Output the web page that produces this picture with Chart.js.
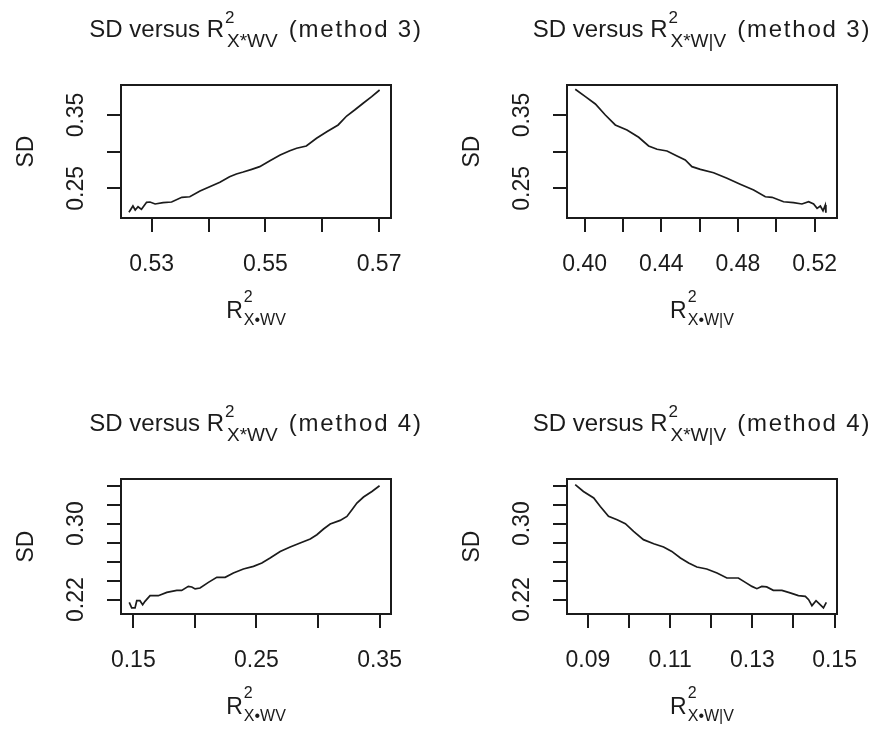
<!DOCTYPE html>
<html><head><meta charset="utf-8">
<script src="https://cdn.jsdelivr.net/npm/chart.js@4/dist/chart.umd.min.js"></script>
<style>
html,body{margin:0;padding:0;background:#fff;}
#wrap{position:relative;width:882px;height:733px;overflow:hidden;background:#fff;}
canvas{position:absolute;}
</style></head><body>
<div id="wrap">
<canvas id="c1" width="441" height="366" style="left:0px;top:0px"></canvas>
<canvas id="c2" width="441" height="366" style="left:441px;top:0px"></canvas>
<canvas id="c3" width="441" height="367" style="left:0px;top:366px"></canvas>
<canvas id="c4" width="441" height="367" style="left:441px;top:366px"></canvas>
</div>
<script>
// ---- data: method 3, SD vs R2 X*WV ----
const r2_xwv_m3 = [0.5260,0.5267,0.5271,0.5276,0.5282,0.5291,0.5297,0.5306,0.5320,0.5335,0.5353,0.5367,0.5385,0.5402,0.5420,0.5437,0.5449,0.5461,0.5476,0.5490,0.5508,0.5526,0.5543,0.5555,0.5572,0.5590,0.5608,0.5628,0.5643,0.5657,0.5672,0.5687,0.5701];
const sd_xwv_m3 = [0.2173,0.2259,0.2204,0.2249,0.2213,0.2309,0.2313,0.2286,0.2304,0.2313,0.2377,0.2385,0.2463,0.2522,0.2582,0.2658,0.2695,0.2722,0.2759,0.2795,0.2877,0.2954,0.3013,0.3046,0.3077,0.3182,0.3272,0.3364,0.3486,0.3568,0.3660,0.3750,0.3841];
// ---- data: method 3, SD vs R2 X*W|V ----
const r2_xwgv_m3 = [0.3951,0.4004,0.4056,0.4108,0.4160,0.4221,0.4282,0.4334,0.4378,0.4430,0.4482,0.4525,0.4560,0.4604,0.4673,0.4743,0.4812,0.4882,0.4943,0.4978,0.5038,0.5090,0.5134,0.5169,0.5195,0.5213,0.5230,0.5244,0.5256,0.5259];
const sd_xwgv_m3 = [0.3851,0.3750,0.3650,0.3500,0.3364,0.3295,0.3196,0.3077,0.3032,0.3009,0.2941,0.2886,0.2795,0.2759,0.2713,0.2636,0.2555,0.2477,0.2385,0.2377,0.2317,0.2304,0.2286,0.2317,0.2286,0.2227,0.2259,0.2194,0.2272,0.2167];
// ---- data: method 4, SD vs R2 X*WV ----
const r2_xwv_m4 = [0.1467,0.1487,0.1514,0.1528,0.1554,0.1576,0.1595,0.1636,0.1703,0.1772,0.1853,0.1893,0.1947,0.1975,0.2002,0.2042,0.2110,0.2178,0.2246,0.2313,0.2394,0.2476,0.2544,0.2611,0.2693,0.2774,0.2855,0.2937,0.2991,0.3045,0.3099,0.3180,0.3235,0.3276,0.3316,0.3370,0.3438,0.3500];
const sd_xwv_m4 = [0.2172,0.2113,0.2113,0.2189,0.2189,0.2147,0.2182,0.2242,0.2242,0.2277,0.2298,0.2298,0.2340,0.2334,0.2313,0.2323,0.2382,0.2435,0.2435,0.2481,0.2523,0.2551,0.2586,0.2639,0.2708,0.2755,0.2797,0.2839,0.2884,0.2944,0.2997,0.3035,0.3077,0.3147,0.3218,0.3281,0.3340,0.3400];
// ---- data: method 4, SD vs R2 X*W|V ----
const r2_xwgv_m4 = [0.0869,0.0889,0.0914,0.0930,0.0950,0.0971,0.0991,0.1011,0.1035,0.1060,0.1084,0.1104,0.1125,0.1145,0.1165,0.1189,0.1214,0.1238,0.1266,0.1283,0.1299,0.1311,0.1323,0.1335,0.1351,0.1372,0.1392,0.1412,0.1429,0.1437,0.1445,0.1455,0.1465,0.1473,0.1480];
const sd_xwgv_m4 = [0.3411,0.3340,0.3271,0.3182,0.3077,0.3042,0.3000,0.2919,0.2832,0.2789,0.2755,0.2708,0.2639,0.2586,0.2544,0.2523,0.2481,0.2428,0.2428,0.2382,0.2340,0.2316,0.2340,0.2334,0.2298,0.2298,0.2271,0.2242,0.2235,0.2200,0.2137,0.2189,0.2147,0.2113,0.2172];

// ---- tick values and tick labels ----
const xTicks_xwv_m3 = [0.53,0.54,0.55,0.56,0.57];
const xLabels_xwv_m3 = ["0.53","","0.55","","0.57"];
const xTicks_xwgv_m3 = [0.40,0.42,0.44,0.46,0.48,0.50,0.52];
const xLabels_xwgv_m3 = ["0.40","","0.44","","0.48","","0.52"];
const xTicks_xwv_m4 = [0.15,0.20,0.25,0.30,0.35];
const xLabels_xwv_m4 = ["0.15","","0.25","","0.35"];
const xTicks_xwgv_m4 = [0.09,0.10,0.11,0.12,0.13,0.14,0.15];
const xLabels_xwgv_m4 = ["0.09","","0.11","","0.13","","0.15"];
const yTicks_m3 = [0.25,0.30,0.35];
const yLabels_m3 = ["0.25","","0.35"];
const yTicks_m4 = [0.22,0.24,0.26,0.28,0.30,0.32,0.34];
const yLabels_m4 = ["0.22","","","","0.30","",""];

// ---- texts ----
const yTitle = "SD";
const titles = [
  {pre:"SD versus R", sup:"2", sub:"X*WV", post:"(method 3)"},
  {pre:"SD versus R", sup:"2", sub:"X*W|V", post:"(method 3)"},
  {pre:"SD versus R", sup:"2", sub:"X*WV", post:"(method 4)"},
  {pre:"SD versus R", sup:"2", sub:"X*W|V", post:"(method 4)"}
];
const xTitles = [
  {pre:"R", sup:"2", sub:"X\u2022WV", post:""},
  {pre:"R", sup:"2", sub:"X\u2022W|V", post:""},
  {pre:"R", sup:"2", sub:"X\u2022WV", post:""},
  {pre:"R", sup:"2", sub:"X\u2022W|V", post:""}
];

// ---- layout (positions / styles) ----
const FONT = '"Liberation Sans", Arial, Helvetica, sans-serif';
const BIG = 23;
const INK = '#1b1b1b';
const titleStyle = {big:24, sup:17, sub:19, supGap:1, subGap:3, postGap:11, postSpacing:1.8, rise:14, drop:10};
const xlabStyle = {big:23, sup:16, sub:16, supGap:1, subGap:1, postGap:0, postSpacing:0, rise:16, drop:7};
const panels = [
  {id:'c1', xs:r2_xwv_m3, ys:sd_xwv_m3, xMin:0.5246, xMax:0.5721, yMin:0.2095, yMax:0.3909,
   xT:xTicks_xwv_m3, xL:xLabels_xwv_m3, yT:yTicks_m3, yL:yLabels_m3, box:{l:121,r:391,t:85,b:218}, ti:0},
  {id:'c2', xs:r2_xwgv_m3, ys:sd_xwgv_m3, xMin:0.3908, xMax:0.5317, yMin:0.2095, yMax:0.3909,
   xT:xTicks_xwgv_m3, xL:xLabels_xwgv_m3, yT:yTicks_m3, yL:yLabels_m3, box:{l:126,r:396,t:85,b:218}, ti:1},
  {id:'c3', xs:r2_xwv_m4, ys:sd_xwv_m4, xMin:0.1400, xMax:0.3593, yMin:0.2049, yMax:0.3471,
   xT:xTicks_xwv_m4, xL:xLabels_xwv_m4, yT:yTicks_m4, yL:yLabels_m4, box:{l:121,r:391,t:113,b:248}, ti:2},
  {id:'c4', xs:r2_xwgv_m4, ys:sd_xwgv_m4, xMin:0.0849, xMax:0.1506, yMin:0.2049, yMax:0.3471,
   xT:xTicks_xwgv_m4, xL:xLabels_xwgv_m4, yT:yTicks_m4, yL:yLabels_m4, box:{l:126,r:396,t:113,b:248}, ti:3}
];

function drawMath(ctx, cx, baseline, m, st) {
  ctx.textAlign = 'left'; ctx.textBaseline = 'alphabetic'; ctx.fillStyle = INK;
  ctx.font = st.big + 'px ' + FONT;
  ctx.letterSpacing = '0px';
  const w1 = ctx.measureText(m.pre).width;
  ctx.letterSpacing = st.postSpacing + 'px';
  const w3 = m.post ? ctx.measureText(m.post).width : 0;
  ctx.letterSpacing = '0px';
  ctx.font = st.sup + 'px ' + FONT;
  const wsup = ctx.measureText(m.sup).width;
  ctx.font = st.sub + 'px ' + FONT;
  const wsub = ctx.measureText(m.sub).width;
  const wmid = Math.max(st.supGap + wsup, st.subGap + wsub);
  const total = w1 + wmid + (m.post ? st.postGap + w3 : 0);
  let x = cx - total / 2;
  ctx.font = st.big + 'px ' + FONT;
  ctx.fillText(m.pre, x, baseline); x += w1;
  ctx.font = st.sup + 'px ' + FONT;
  ctx.fillText(m.sup, x + st.supGap, baseline - st.rise);
  ctx.font = st.sub + 'px ' + FONT;
  ctx.fillText(m.sub, x + st.subGap, baseline + st.drop);
  x += wmid;
  if (m.post) {
    ctx.font = st.big + 'px ' + FONT;
    ctx.letterSpacing = st.postSpacing + 'px';
    ctx.fillText(m.post, x + st.postGap, baseline);
    ctx.letterSpacing = '0px';
  }
}

const rPlot = {
  id: 'rPlot',
  afterDraw(chart, args, opts) {
    const p = opts.panel;
    const ctx = chart.ctx;
    const a = chart.chartArea;
    const xs = chart.scales.x, ys = chart.scales.y;
    ctx.save();
    // box
    ctx.strokeStyle = INK; ctx.lineWidth = 2;
    ctx.strokeRect(a.left, a.top, a.right - a.left, a.bottom - a.top);
    // x tick labels
    ctx.fillStyle = INK; ctx.font = BIG + 'px ' + FONT;
    ctx.textAlign = 'center'; ctx.textBaseline = 'alphabetic';
    p.xT.forEach((v, i) => { if (p.xL[i]) ctx.fillText(p.xL[i], xs.getPixelForValue(v), a.bottom + 53); });
    // y tick labels (rotated, reading upward)
    p.yT.forEach((v, i) => {
      if (!p.yL[i]) return;
      ctx.save();
      ctx.translate(a.left - 38, ys.getPixelForValue(v));
      ctx.rotate(-Math.PI / 2);
      ctx.fillText(p.yL[i], 0, 0);
      ctx.restore();
    });
    // y axis title
    ctx.save();
    ctx.translate(a.left - 88, (a.top + a.bottom) / 2);
    ctx.rotate(-Math.PI / 2);
    ctx.textAlign = 'center';
    ctx.fillText(yTitle, 0, 0);
    ctx.restore();
    // x axis title
    drawMath(ctx, (a.left + a.right) / 2, a.bottom + 100, xTitles[p.ti], xlabStyle);
    // main title
    drawMath(ctx, (a.left + a.right) / 2, a.top - 48, titles[p.ti], titleStyle);
    ctx.restore();
  }
};

panels.forEach(p => {
  const cv = document.getElementById(p.id);
  const W = cv.width, H = cv.height;
  const pts = p.xs.map((x, i) => ({x: x, y: p.ys[i]}));
  new Chart(cv, {
    type: 'scatter',
    data: { datasets: [{ data: pts, showLine: true, pointRadius: 0, borderColor: INK, borderWidth: 1.7, tension: 0 }] },
    options: {
      responsive: false, animation: false, devicePixelRatio: 1,
      layout: { padding: { left: 0, top: p.box.t, right: W - p.box.r, bottom: 0 } },
      plugins: { legend: { display: false }, tooltip: { enabled: false }, rPlot: { panel: p } },
      scales: {
        x: {
          type: 'linear', position: 'bottom', min: p.xMin, max: p.xMax,
          afterBuildTicks: s => { s.ticks = p.xT.map(v => ({value: v})); },
          afterFit: s => { s.height = H - p.box.b; },
          ticks: { display: false },
          grid: { drawOnChartArea: false, drawTicks: true, tickLength: 14, color: INK, lineWidth: 2 },
          border: { display: false }
        },
        y: {
          type: 'linear', position: 'left', min: p.yMin, max: p.yMax,
          afterBuildTicks: s => { s.ticks = p.yT.map(v => ({value: v})); },
          afterFit: s => { s.width = p.box.l; },
          ticks: { display: false },
          grid: { drawOnChartArea: false, drawTicks: true, tickLength: 14, color: INK, lineWidth: 2 },
          border: { display: false }
        }
      }
    },
    plugins: [rPlot]
  });
});
</script>
</body></html>
